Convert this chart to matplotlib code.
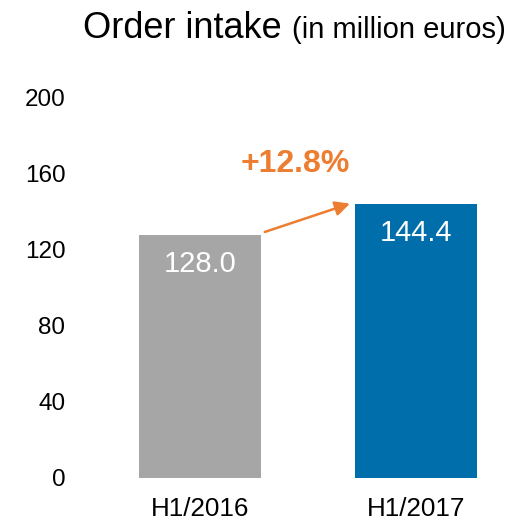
import matplotlib.pyplot as plt

plt.rcParams["font.family"] = ["Liberation Sans", "DejaVu Sans"]

# data
categories = ["H1/2016", "H1/2017"]
values = [128.0, 144.4]
labels = ["128.0", "144.4"]
growth = "+12.8%"
yticks = [0, 40, 80, 120, 160, 200]

colors = ["#A6A6A6", "#006EAB"]
orange = "#ED7D31"

W, H = 516, 523
fig = plt.figure(figsize=(W / 100, H / 100), dpi=100)
ax = fig.add_axes([75 / W, (H - 478) / H, (505 - 75) / W, (478 - 98) / H])

x = [0, 1]
ax.bar(x, values, width=122 / 216, color=colors)
ax.set_xlim((75 - 200) / 216, (505 - 200) / 216)
ax.set_ylim(0, 200)
ax.set_yticks(yticks)
ax.set_xticks(x)
ax.set_xticklabels(categories, fontsize=18.7)
ax.tick_params(axis="y", length=0, pad=7, labelsize=17.5)
ax.tick_params(axis="x", length=0, pad=14)
for s in ax.spines.values():
    s.set_visible(False)

for xi, v, lab in zip(x, values, labels):
    ax.annotate(lab, xy=(xi, v), xytext=(0, -21), textcoords="offset points",
                ha="center", va="center", color="white", fontsize=21)

# growth arrow
ax.annotate("", xy=(0.694, values[1]), xytext=(0.30, values[0] + 1.5),
            arrowprops=dict(arrowstyle="-|>", color=orange, lw=1.8,
                            mutation_scale=22, shrinkA=0, shrinkB=0))
ax.text(0.44, 165, growth, ha="center", va="center", color=orange,
        fontsize=23, fontweight="bold")

fig.text(83 / W, 1 - 38 / H, "Order intake", fontsize=26, va="baseline", ha="left")
fig.text(292 / W, 1 - 38 / H, "(in million euros)", fontsize=21, va="baseline", ha="left")

fig.savefig("out.png", dpi=100)
